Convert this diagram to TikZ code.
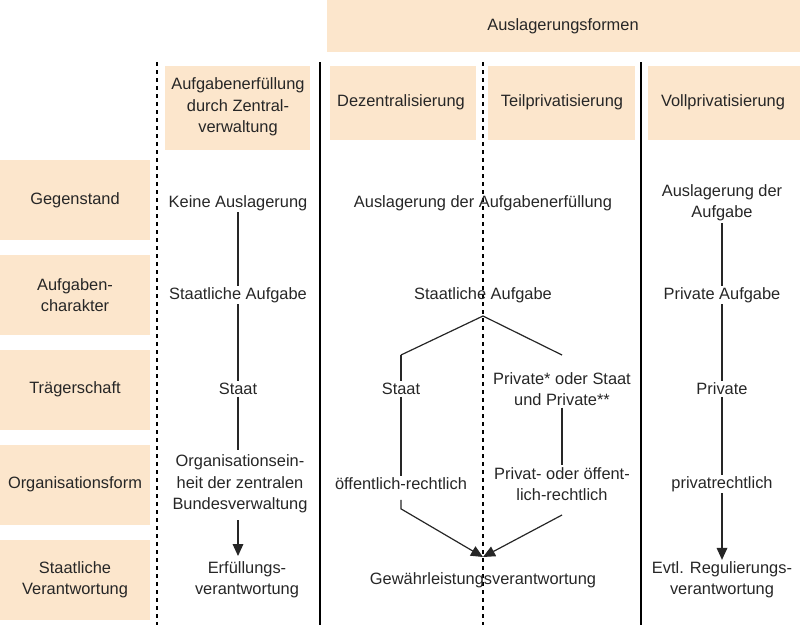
\documentclass[tikz,border=0pt]{standalone}
\usepackage{fontspec}
\setmainfont{Liberation Sans}
\usetikzlibrary{arrows.meta}
\tikzset{every picture/.style={line width=0.75pt}}
\tikzset{
  hdbox/.style={fill={rgb,255:red,252;green,230;blue,204},draw=none},
  txt/.style={align=center,inner sep=1pt,font=\fontsize{12.3}{16}\selectfont,text=black!85},
  con/.style={draw=black!85,line width=0.9pt},
  arr/.style={con,-{Triangle[length=9pt,width=8pt]}}
}
\begin{document}
\begin{tikzpicture}[x=0.75pt,y=0.75pt,yscale=-1,xscale=1]
\useasboundingbox (0,0) rectangle (800,625);

%Header boxes
\fill[hdbox] (327,0) rectangle (800,52);
\fill[hdbox] (165,66) rectangle (310,150);
\fill[hdbox] (330,66) rectangle (476,140);
\fill[hdbox] (488,66) rectangle (635,140);
\fill[hdbox] (648,66) rectangle (800,140);
\foreach \ya/\yb in {160/240,255/335,350/430,445/525,540/620}
  \fill[hdbox] (0,\ya) rectangle (150,\yb);

%Column separators
\draw [dashed,line width=0.9pt] (157,62) -- (157,625);
\draw [line width=0.9pt] (320,62) -- (320,625);
\draw [dashed,line width=0.9pt] (483,62) -- (483,625);
\draw [line width=0.9pt] (641,62) -- (641,625);

% Header text
\node [txt] (hd) at (563,26) {Auslagerungsformen};
\node [txt] (zv) at (238,107) {Aufgabenerfüllung\\durch Zentral-\\verwaltung};
\node [txt] (dz) at (401,102) {Dezentralisierung};
\node [txt] (tp) at (562,102) {Teilprivatisierung};
\node [txt] (vp) at (723,102) {Vollprivatisierung};

% Row labels
\node [txt] (rga) at (75,200) {Gegenstand};
\node [txt] (rac) at (75,295) {Aufgaben-\\charakter};
\node [txt] (rtr) at (75,389) {Trägerschaft};
\node [txt] (ros) at (75,484) {Organisationsform};
\node [txt] (rsv) at (75,580) {Staatliche\\Verantwortung};

% Column 1
\node [txt] (a1) at (238,203) {Keine Auslagerung};
\node [txt] (a2) at (238,295) {Staatliche Aufgabe};
\node [txt] (a3) at (238,389) {Staat};
\node [txt] (a4) at (240,484) {Organisationsein-\\heit der zentralen\\Bundesverwaltung};
\node [txt] (a5) at (247,580) {Erfüllungs-\\verantwortung};

% Middle columns
\node [txt] (b1) at (483,203) {Auslagerung der Aufgabenerfüllung};
\node [txt] (b2) at (483,295) {Staatliche Aufgabe};
\node [txt] (b3) at (401,389) {Staat};
\node [txt] (c3) at (562,389) {Private* oder Staat\\und Private**};
\node [txt] (b4) at (401,484) {öffentlich-rechtlich};
\node [txt] (c4) at (562,484) {Privat- oder öffent-\\lich-rechtlich};
\node [txt] (b5) at (483,580) {Gewährleistungsverantwortung};

% Column 4
\node [txt] (d1) at (722,203) {Auslagerung der\\Aufgabe};
\node [txt] (d2) at (722,295) {Private Aufgabe};
\node [txt] (d3) at (722,389) {Private};
\node [txt] (d4) at (722,484) {privatrechtlich};
\node [txt] (d5) at (722,580) {Evtl. Regulierungs-\\verantwortung};

\coordinate (br) at (483,316);
\coordinate (bl) at (401,355);
\coordinate (bc) at (562,355);
\coordinate (tip) at (483,557);

% Connectors
\draw [con] (a1) -- (a2);
\draw [con] (a2) -- (a3);
\draw [con] (a3) -- (238,450);
\draw [arr] (238,520) -- (238,556);
\draw [con] (bl) -- (br) -- (bc);
\draw [con] (bl) -- (b3);
\draw [con] (b3) -- (b4);
\draw [arr] (b4.south) ++(0,8) -- ++(0,9) -- (tip);
\draw [con] (c3) -- (c4);
\draw [arr] (562,515) -- (tip);
\draw [con] (d1) -- (d2);
\draw [con] (d2) -- (d3);
\draw [con] (d3) -- (d4);
\draw [arr] (d4) -- (d5);
\end{tikzpicture}
\end{document}
